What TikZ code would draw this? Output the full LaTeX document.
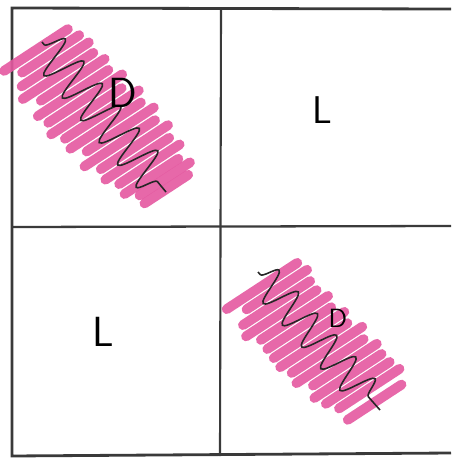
\documentclass[tikz,border=0pt]{standalone}
\usepackage{tikz}
\usetikzlibrary{decorations.pathmorphing}
\definecolor{softpink}{RGB}{228,88,160}
\definecolor{penline}{RGB}{58,58,58}

\begin{document}
\begin{tikzpicture}[x=0.02cm, y=-0.02cm,
    pinkstroke/.style={softpink, opacity=0.9, line width=5.6pt, line cap=round},
    wiggle/.style={black!85, line width=0.9pt, decorate, decoration={snake, amplitude=#1, segment length=0.58cm, pre length=2pt, post length=2pt}},
    every node/.style={font=\sffamily}]
  \useasboundingbox (0,0) rectangle (451,460);
  \draw[penline, line width=1.6pt] (451,9) -- (12,8) -- (12,456) -- (451,453);
  \draw[penline, line width=1.3pt] (12,227) -- (451,226);
  \draw[penline, line width=1.2pt] (221,9) -- (220,456);
  \coordinate (tla) at (36,50);
  \coordinate (tlb) at (168,188);
  \coordinate (bra) at (262,286);
  \coordinate (brb) at (378,400);
  \foreach \t/\l/\o in {0/38/0, 0.06/34/8, 0.12/40/4, 0.18/42/-2, 0.24/38/6, 0.3/42/-3, 0.36/44/2, 0.42/42/-6, 0.48/44/3, 0.54/42/-2, 0.6/40/6, 0.66/42/-4, 0.72/40/4, 0.78/38/-2, 0.84/36/3, 0.9/32/-4, 0.95/30/4, 1/26/-2} {
    \path (tla) -- (tlb) coordinate[pos=\t] (m);
    \draw[pinkstroke] (m) ++(-0.84*\l+0.84*\o, 0.55*\l-0.55*\o) -- ++(1.68*\l, -1.1*\l);
  }
  \foreach \t/\l/\o in {0/42/0, 0.07/36/8, 0.14/40/-2, 0.21/42/-6, 0.28/40/0, 0.35/38/-4, 0.42/42/-2, 0.49/40/-6, 0.56/42/0, 0.63/40/-6, 0.7/38/2, 0.77/40/-4, 0.84/38/-2, 0.91/36/2, 1/32/-4} {
    \path (bra) -- (brb) coordinate[pos=\t] (m);
    \draw[pinkstroke] (m) ++(-0.84*\l+0.84*\o, 0.55*\l-0.55*\o) -- ++(1.68*\l, -1.1*\l);
  }
  \coordinate (zta) at (42,42);
  \coordinate (ztb) at (166,192);
  \coordinate (zba) at (258,272);
  \coordinate (zbb) at (380,410);
  \draw[wiggle=0.4cm] (zta) -- (ztb);
  \draw[wiggle=0.34cm] (zba) -- (zbb);
  \node (dtop) at (123,93) {\fontsize{24}{26}\selectfont D};
  \node (dbot) at (338,318) {\fontsize{15}{17}\selectfont D};
  \node (ltop) at (322,110) {\fontsize{22}{24}\selectfont L};
  \node (lbot) at (103,332) {\fontsize{24}{26}\selectfont L};
\end{tikzpicture}
\end{document}
